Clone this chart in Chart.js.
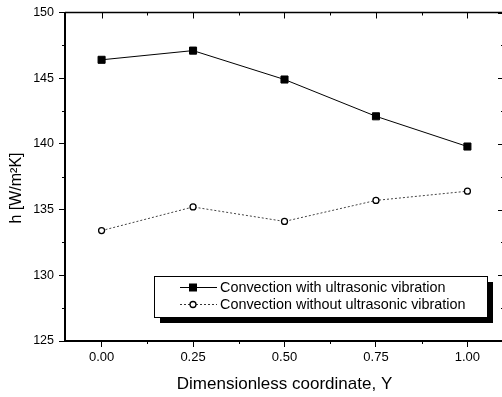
<!DOCTYPE html>
<html>
<head>
<meta charset="utf-8">
<title>Heat transfer coefficient</title>
<script src="https://cdn.jsdelivr.net/npm/chart.js@4.4.1/dist/chart.umd.min.js"></script>
<style>
  html, body { margin: 0; padding: 0; background: #fff; overflow: hidden; }
  #wrap { width: 510px; height: 397px; }
</style>
</head>
<body>
<div id="wrap"><canvas id="hCanvas" width="510" height="397"></canvas></div>
<script>
// values along the dimensionless coordinate Y
const coords = [0.00, 0.25, 0.50, 0.75, 1.00];
const hWith = [146.4, 147.1, 144.9, 142.1, 139.8];
const hWithout = [133.4, 135.2, 134.1, 135.7, 136.4];
const xTicks = [0.00, 0.25, 0.50, 0.75, 1.00];
const yTicks = [125, 130, 135, 140, 145, 150];
const seriesNames = ["Convection with ultrasonic vibration", "Convection without ultrasonic vibration"];
const yTitle = "h [W/m²K]";

const FONT = "Arial, 'Liberation Sans', sans-serif";

// frame: top/right axes, minor ticks, y title and the boxed legend with its shadow
const framePlugin = {
  id: 'frame',
  afterDraw(chart) {
    const ctx = chart.ctx;
    const a = chart.chartArea;
    const xs = chart.scales.x, ys = chart.scales.y;
    ctx.save();
    ctx.strokeStyle = '#000';

    // top + right axis lines
    ctx.lineWidth = 1.5;
    ctx.beginPath();
    ctx.moveTo(a.left, a.top); ctx.lineTo(a.right, a.top);
    ctx.moveTo(a.right, a.top); ctx.lineTo(a.right, a.bottom);
    ctx.stroke();

    ctx.lineWidth = 1;
    ctx.beginPath();
    const xMinor = [];
    for (let i = 0; i < xTicks.length - 1; i++) xMinor.push((xTicks[i] + xTicks[i + 1]) / 2);
    xTicks.forEach(v => {
      const px = Math.round(xs.getPixelForValue(v)) + 0.5;
      ctx.moveTo(px, a.top); ctx.lineTo(px, a.top + 6);
    });
    xMinor.forEach(v => {
      const px = Math.round(xs.getPixelForValue(v)) + 0.5;
      ctx.moveTo(px, a.top); ctx.lineTo(px, a.top + 3);
      ctx.moveTo(px, a.bottom); ctx.lineTo(px, a.bottom + 3);
    });
    const yMinor = [];
    for (let i = 0; i < yTicks.length - 1; i++) yMinor.push((yTicks[i] + yTicks[i + 1]) / 2);
    yTicks.forEach(v => {
      const py = Math.round(ys.getPixelForValue(v)) + 0.5;
      ctx.moveTo(a.right, py); ctx.lineTo(a.right - 6, py);
    });
    yMinor.forEach(v => {
      const py = Math.round(ys.getPixelForValue(v)) + 0.5;
      ctx.moveTo(a.right, py); ctx.lineTo(a.right - 3, py);
      ctx.moveTo(a.left, py); ctx.lineTo(a.left - 3, py);
    });
    ctx.stroke();

    // y axis title, a bit below the middle of the axis
    ctx.fillStyle = '#000';
    ctx.font = '16px ' + FONT;
    ctx.textAlign = 'center';
    ctx.textBaseline = 'middle';
    ctx.save();
    ctx.translate(17, 188);
    ctx.rotate(-Math.PI / 2);
    ctx.fillText(yTitle, 0, 0);
    ctx.restore();

    // legend
    const bx = 154, by = 276, bw = 333, bh = 41;
    ctx.fillStyle = '#000';
    ctx.fillRect(bx + 6, by + 6, bw, bh);
    ctx.fillStyle = '#fff';
    ctx.fillRect(bx, by, bw, bh);
    ctx.lineWidth = 1;
    ctx.strokeRect(bx + 0.5, by + 0.5, bw, bh);

    const rows = [by + 11, by + 28];
    ctx.beginPath();
    ctx.moveTo(180, rows[0] + 0.5); ctx.lineTo(217, rows[0] + 0.5);
    ctx.stroke();
    ctx.fillStyle = '#000';
    ctx.fillRect(189, rows[0] - 3.5, 8, 8);

    ctx.strokeStyle = '#333';
    ctx.setLineDash([2, 2]);
    ctx.beginPath();
    ctx.moveTo(180, rows[1] + 0.5); ctx.lineTo(217, rows[1] + 0.5);
    ctx.stroke();
    ctx.setLineDash([]);
    ctx.strokeStyle = '#000';
    ctx.lineWidth = 1.3;
    ctx.fillStyle = '#fff';
    ctx.beginPath();
    ctx.arc(193, rows[1] + 0.5, 3, 0, Math.PI * 2);
    ctx.fill(); ctx.stroke();

    ctx.fillStyle = '#000';
    ctx.font = '14.4px ' + FONT;
    ctx.textAlign = 'left';
    ctx.fillText(seriesNames[0], 220, rows[0] + 1);
    ctx.fillText(seriesNames[1], 220, rows[1] + 1);
    ctx.restore();
  }
};

const hChart = new Chart(document.getElementById('hCanvas'), {
  type: 'line',
  data: {
    datasets: [{
      label: seriesNames[0],
      data: coords.map((c, i) => ({ x: c, y: hWith[i] })),
      borderColor: '#000',
      borderWidth: 1,
      pointStyle: 'rect',
      pointRadius: 5,
      pointBackgroundColor: '#000',
      pointBorderColor: '#000',
      pointBorderWidth: 1
    }, {
      label: seriesNames[1],
      data: coords.map((c, i) => ({ x: c, y: hWithout[i] })),
      borderColor: '#444',
      borderWidth: 1,
      borderDash: [2, 2],
      pointStyle: 'circle',
      pointRadius: 3,
      pointBackgroundColor: '#fff',
      pointBorderColor: '#000',
      pointBorderWidth: 1.3
    }]
  },
  options: {
    responsive: false,
    animation: false,
    layout: { padding: { top: 11, right: 3, left: 0, bottom: 0 } },
    plugins: { legend: { display: false }, tooltip: { enabled: false } },
    scales: {
      x: {
        type: 'linear',
        min: -0.1,
        max: 1.1,
        afterBuildTicks: s => { s.ticks = xTicks.map(v => ({ value: v })); },
        afterFit: s => { s.height = 56; },
        ticks: {
          color: '#000',
          font: { family: FONT, size: 13 },
          padding: 3,
          maxRotation: 0,
          callback: v => v.toFixed(2)
        },
        grid: { drawOnChartArea: false, drawTicks: true, tickLength: 6, color: '#000', tickWidth: 1 },
        border: { display: true, color: '#000', width: 2 },
        title: {
          display: true,
          text: 'Dimensionless coordinate, Y',
          color: '#000',
          font: { family: FONT, size: 17 },
          padding: { top: 0, bottom: 2 }
        }
      },
      y: {
        min: 125,
        max: 150,
        afterBuildTicks: s => { s.ticks = yTicks.map(v => ({ value: v })); },
        afterFit: s => { s.width = 65; },
        ticks: {
          color: '#000',
          font: { family: FONT, size: 12.5 },
          padding: 5
        },
        grid: { drawOnChartArea: false, drawTicks: true, tickLength: 6, color: '#000', tickWidth: 1 },
        border: { display: true, color: '#000', width: 2 },
        title: { display: false }
      }
    }
  },
  plugins: [framePlugin]
});
</script>
</body>
</html>
